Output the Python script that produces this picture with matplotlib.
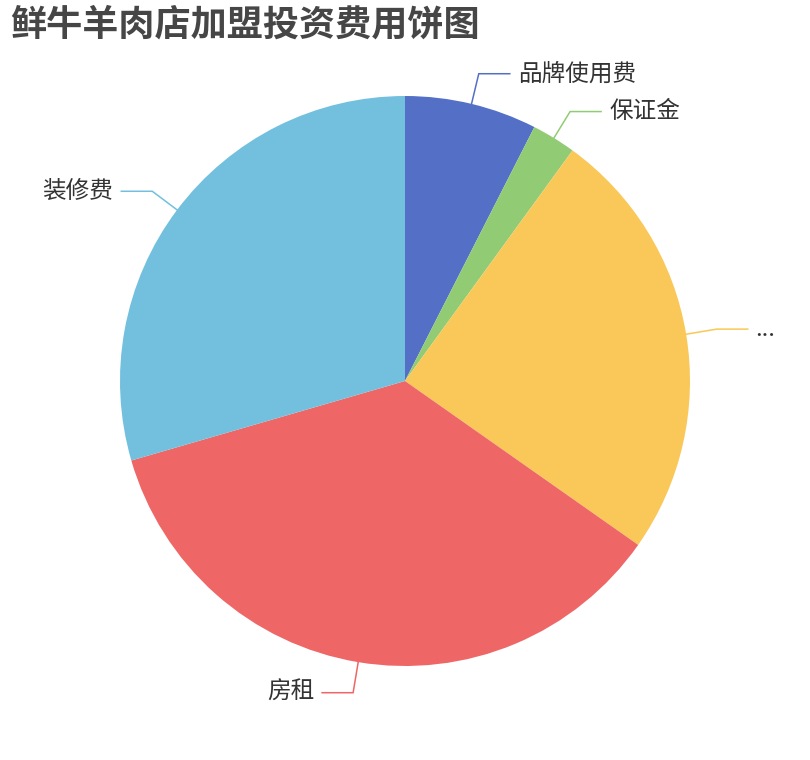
import matplotlib
matplotlib.use('Agg')
import matplotlib.pyplot as plt
import numpy as np

plt.rcParams['font.family'] = ['Noto Sans CJK SC', 'DejaVu Sans']

# data (万元)
labels = ['品牌使用费', '保证金', '...', '房租', '装修费']
values = [3, 1, 9.9, 14.3, 11.8]
colors = ['#5470c6', '#91cc75', '#fac858', '#ee6666', '#73c0de']

W, H = 810, 760
fig = plt.figure(figsize=(W/100, H/100), dpi=100)
ax = fig.add_axes([0, 0, 1, 1])

cx, cy, r = 405, H - 381, 285   # pixel-ish coords, y up
wedges, _ = ax.pie(values, colors=colors, startangle=90, counterclock=False,
                   center=(cx, cy), radius=r, frame=True,
                   wedgeprops=dict(linewidth=0))
ax.set_xlim(0, W)
ax.set_ylim(0, H)
ax.axis('off')

len1, len2 = 31, 31
for w, lab, col in zip(wedges, labels, colors):
    mid = np.deg2rad((w.theta1 + w.theta2) / 2)
    x0, y0 = cx + r*np.cos(mid), cy + r*np.sin(mid)
    x1, y1 = cx + (r+len1)*np.cos(mid), cy + (r+len1)*np.sin(mid)
    side = 1 if np.cos(mid) >= 0 else -1
    x2 = x1 + side*len2
    ax.plot([x0, x1, x2], [y0, y1, y1], color=col, lw=1.1, solid_joinstyle='miter')
    ax.text(x2 + side*8, y1, lab, fontsize=17, color='#333333',
            ha='left' if side > 0 else 'right', va='center')

fig.text(10/W, 1 - 25/H, '鲜牛羊肉店加盟投资费用饼图', fontsize=26, fontweight='bold',
         color='#464646', ha='left', va='center')

plt.savefig('out.png', dpi=100)
